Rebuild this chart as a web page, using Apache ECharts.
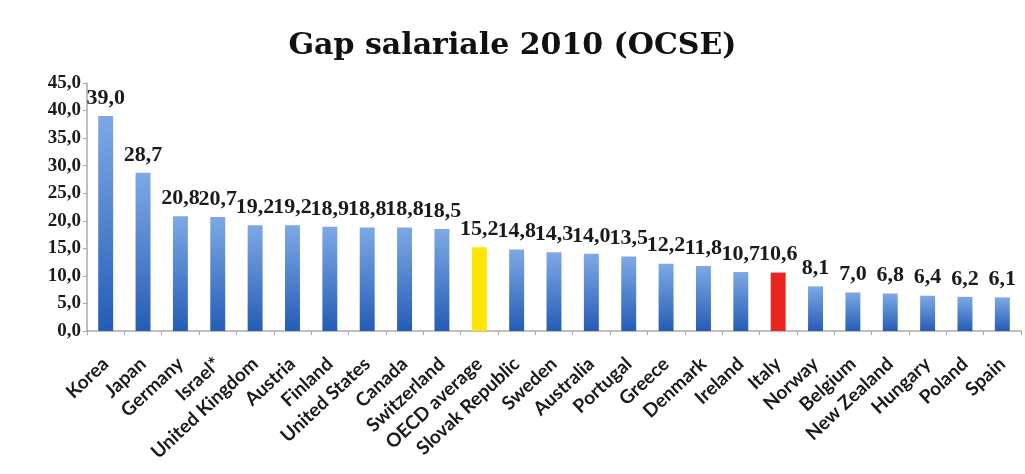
<!DOCTYPE html>
<html>
<head>
<meta charset="utf-8">
<script src="https://cdn.jsdelivr.net/npm/echarts@6/dist/echarts.min.js"></script>
<style>
  html, body { margin: 0; padding: 0; background: #ffffff; }
  #chart { width: 1025px; height: 474px; }
</style>
</head>
<body>
<div id="chart"></div>
<script>
// Gender pay gap by country, 2010 (OECD), percent
const countries = ['Korea', 'Japan', 'Germany', 'Israel*', 'United Kingdom', 'Austria', 'Finland',
  'United States', 'Canada', 'Switzerland', 'OECD average', 'Slovak Republic', 'Sweden', 'Australia',
  'Portugal', 'Greece', 'Denmark', 'Ireland', 'Italy', 'Norway', 'Belgium', 'New Zealand',
  'Hungary', 'Poland', 'Spain'];
const gapValues = [39.0, 28.7, 20.8, 20.7, 19.2, 19.2, 18.9, 18.8, 18.8, 18.5, 15.2, 14.8, 14.3,
  14.0, 13.5, 12.2, 11.8, 10.7, 10.6, 8.1, 7.0, 6.8, 6.4, 6.2, 6.1];
const yTicks = [0, 5, 10, 15, 20, 25, 30, 35, 40, 45];

const blueFill = new echarts.graphic.LinearGradient(0, 0, 0, 1, [
  { offset: 0, color: '#7ea9e6' },
  { offset: 1, color: '#245cb6' }
]);
const specialColors = { 'OECD average': '#ffe600', 'Italy': '#e8261f' };

const fmt = v => v.toFixed(1).replace('.', ',');

const chart = echarts.init(document.getElementById('chart'));
chart.setOption({
  animation: false,
  backgroundColor: '#ffffff',
  title: {
    text: 'Gap salariale 2010 (OCSE)',
    left: 'center',
    top: 26,
    textStyle: { fontFamily: 'DejaVu Serif', fontWeight: 'bold', fontSize: 30, color: '#111' }
  },
  grid: { left: 87, right: 4, top: 83, bottom: 143 },
  xAxis: {
    type: 'category',
    data: countries,
    axisLine: { lineStyle: { color: '#aaaaaa', width: 1.5 } },
    axisTick: { show: true, length: 4, lineStyle: { color: '#aaaaaa' } },
    axisLabel: {
      interval: 0,
      rotate: 43,
      margin: 30,
      color: '#1a1a1a',
      fontFamily: 'Lato',
      fontWeight: 'bold',
      fontSize: 19
    }
  },
  yAxis: {
    type: 'value',
    min: yTicks[0],
    max: yTicks[yTicks.length - 1],
    interval: 5,
    splitLine: { show: false },
    axisLine: { show: true, lineStyle: { color: '#aaaaaa', width: 1.5 } },
    axisTick: { show: true, length: 4, lineStyle: { color: '#aaaaaa' } },
    axisLabel: {
      formatter: fmt,
      color: '#1a1a1a',
      fontFamily: 'Liberation Serif',
      fontWeight: 'bold',
      fontSize: 19,
      margin: 6
    }
  },
  series: [{
    type: 'bar',
    barWidth: '40%',
    data: gapValues.map((v, i) => ({
      value: v,
      itemStyle: { color: specialColors[countries[i]] || blueFill }
    })),
    label: {
      show: true,
      position: 'top',
      distance: 7,
      formatter: p => fmt(p.value),
      color: '#1a1a1a',
      fontFamily: 'Liberation Serif',
      fontWeight: 'bold',
      fontSize: 22
    }
  }]
});
</script>
</body>
</html>
